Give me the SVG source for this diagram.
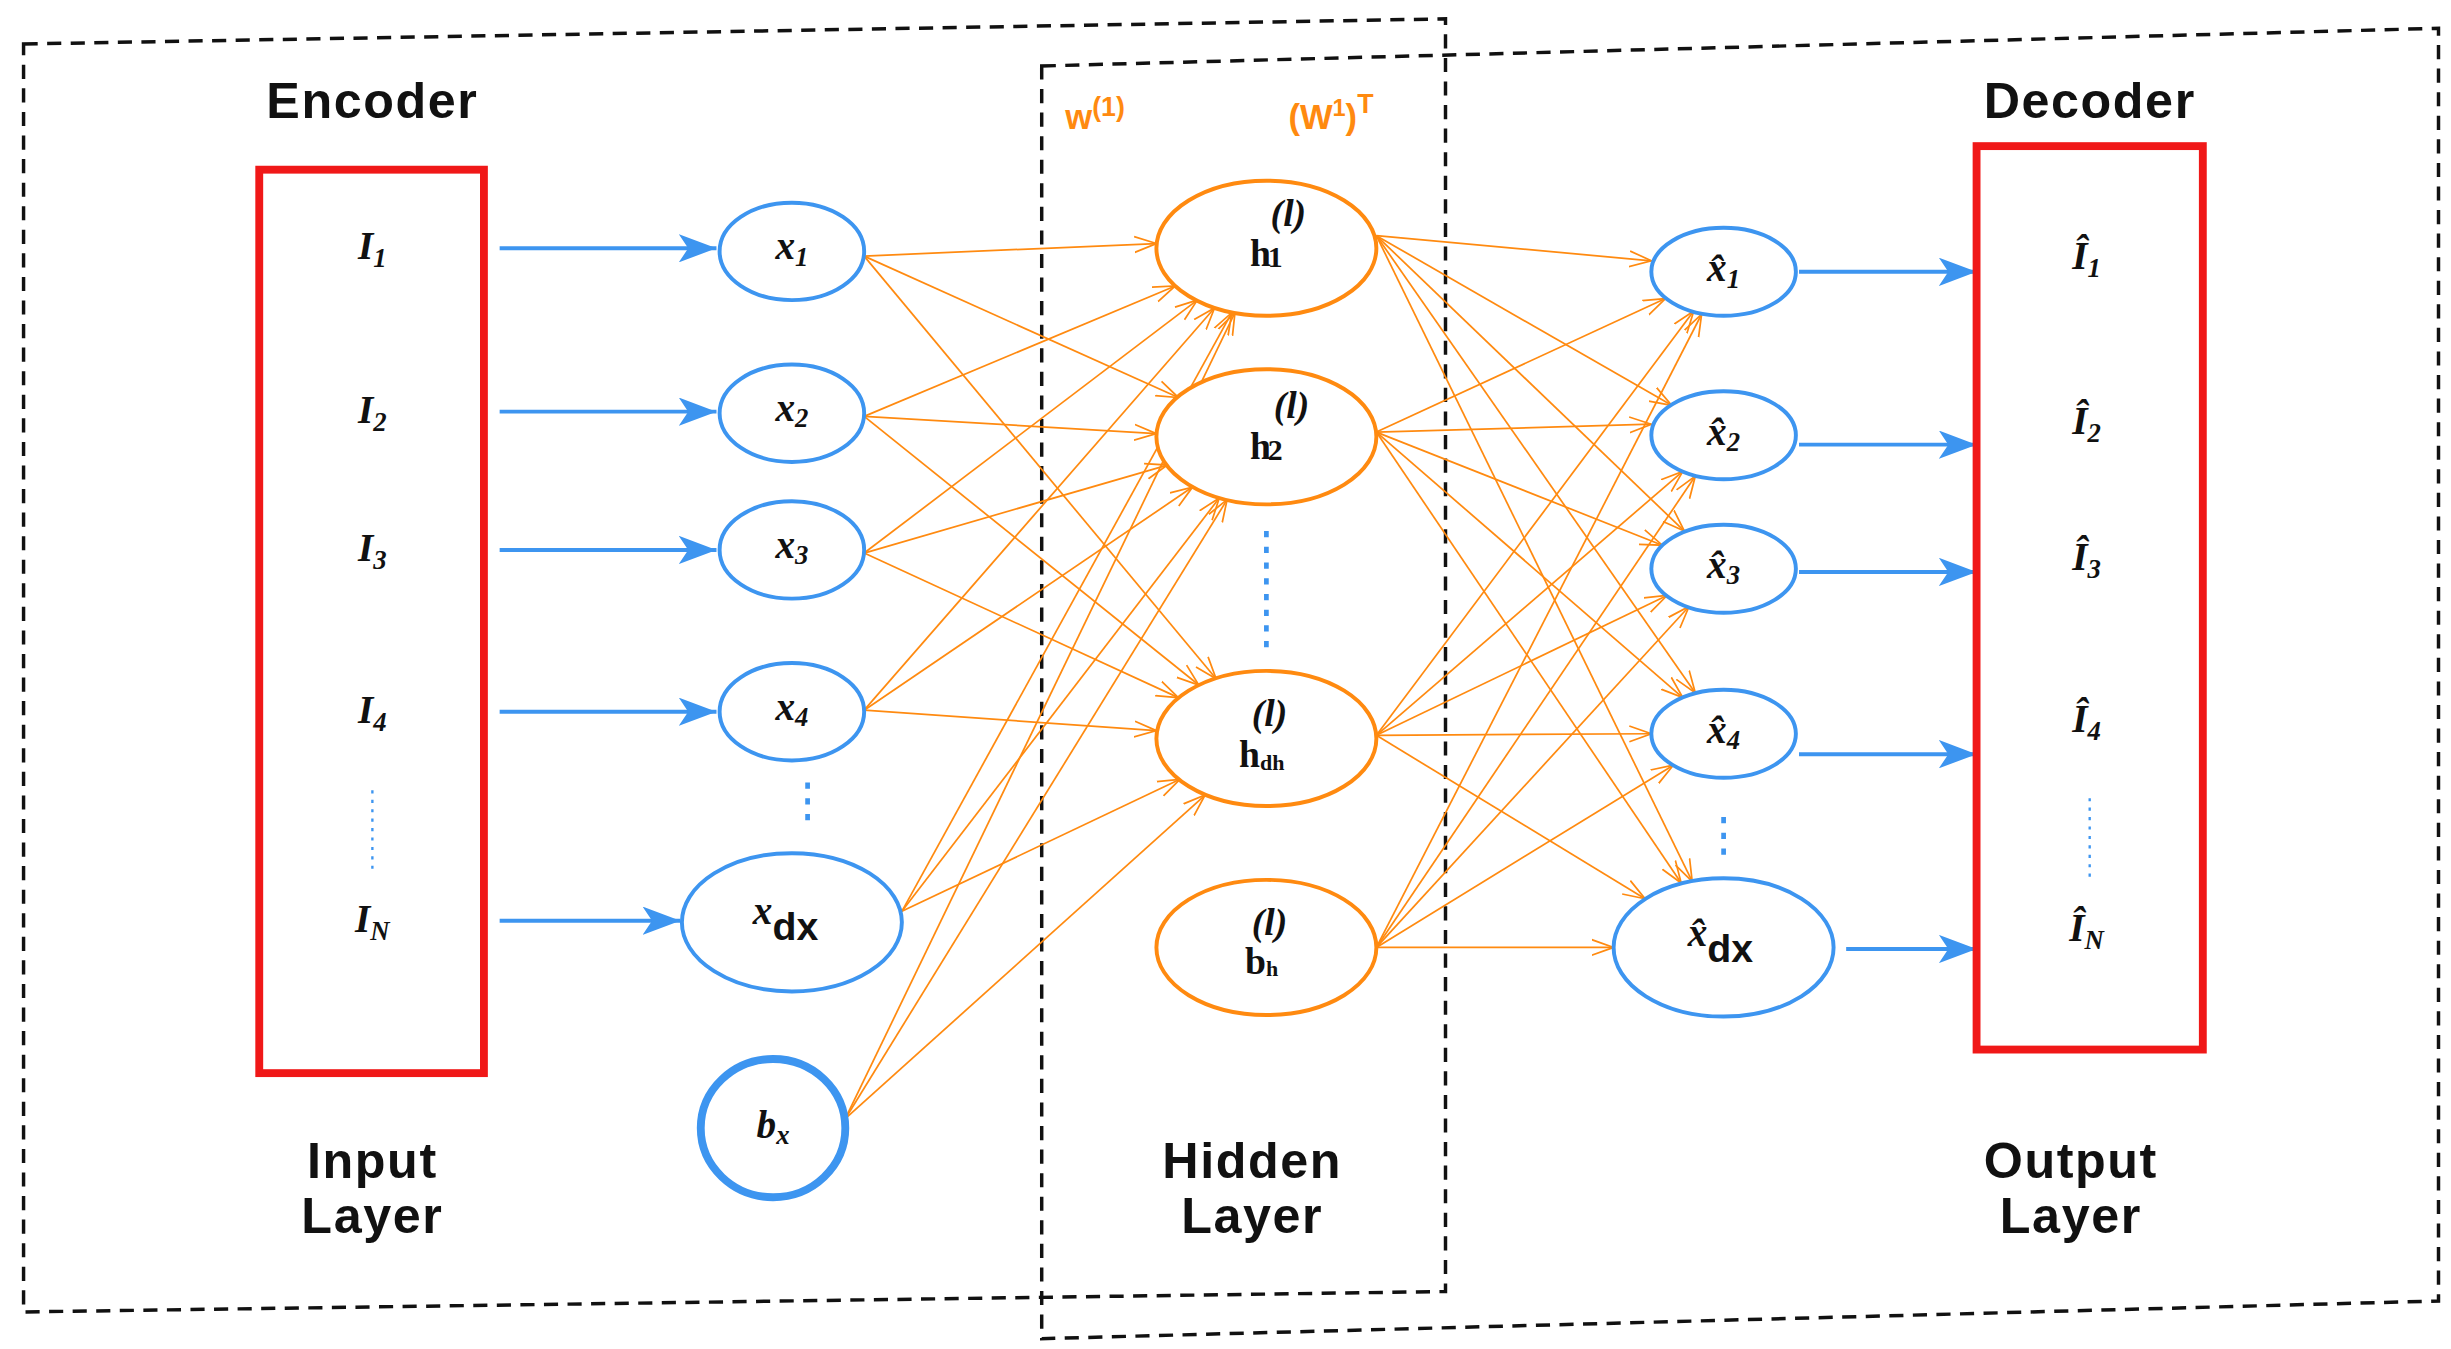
<svg xmlns="http://www.w3.org/2000/svg" width="2451" height="1349" viewBox="0 0 2451 1349">
<style>
.dash{fill:none;stroke:#111;stroke-width:2.2;stroke-dasharray:9 6}
.red{fill:none;stroke:#f01818;stroke-width:5}
.bn{fill:#fff;stroke:#3d95f0;stroke-width:2.5}
.bxn{fill:#fff;stroke:#3d95f0;stroke-width:5}
.on{fill:#fff;stroke:#ff8a10;stroke-width:2.5}
.ol{stroke:#ff8a10;stroke-width:1.1;fill:none;marker-end:url(#oa)}
.bl{stroke:#3d95f0;stroke-width:2.5;fill:none;marker-end:url(#ba)}
.hd{font-family:"Liberation Sans",Arial,sans-serif;font-weight:bold;font-size:32px;letter-spacing:1px;fill:#111;text-anchor:middle}
.mi{font-family:"Liberation Serif",serif;font-style:italic;font-weight:bold;font-size:25px;fill:#111;text-anchor:middle}
.sb{font-size:17px}
.hb{font-family:"Liberation Serif",serif;font-weight:bold;font-size:24px;fill:#111;text-anchor:middle}
.wl{font-family:"Liberation Sans",Arial,sans-serif;font-weight:bold;font-size:22px;fill:#ff8a10}
.dots{stroke:#3d95f0;stroke-width:3;stroke-dasharray:4 6}
.dotsm{stroke:#3d95f0;stroke-width:1.5;stroke-dasharray:2 4}
</style>
<defs>
<marker id="oa" markerUnits="userSpaceOnUse" markerWidth="16" markerHeight="12" refX="14" refY="6" orient="auto"><path d="M0,1 L14,6 L0,11" fill="none" stroke="#ff8a10" stroke-width="1.1"/></marker>
<marker id="ba" markerUnits="userSpaceOnUse" markerWidth="26" markerHeight="18" refX="24" refY="9" orient="auto"><path d="M0,0 L24,9 L0,18 L6,9 Z" fill="#3d95f0"/></marker>
</defs>
<rect width="2451" height="1349" fill="#fff"/>
<g transform="scale(1.5712)">
<g id="frames">
<path class="dash" d="M15,28 L920,12 L920,822 L15,835 Z"/>
<path class="dash" d="M663,42 L1552,18 L1552,828 L663,852 Z"/>
</g>
<g id="labels">
<text class="hd" x="237" y="75">Encoder</text>
<text class="hd" x="1330" y="75">Decoder</text>
<text class="hd" x="237" y="750">Input</text><text class="hd" x="237" y="785">Layer</text>
<text class="hd" x="797" y="750">Hidden</text><text class="hd" x="797" y="785">Layer</text>
<text class="hd" x="1318" y="750">Output</text><text class="hd" x="1318" y="785">Layer</text>
<text class="wl" x="678" y="82">w<tspan dy="-8" font-size="17">(1)</tspan></text>
<text class="wl" x="820" y="82">(W<tspan dy="-8" font-size="15">1</tspan><tspan dy="8">)</tspan><tspan dy="-10" font-size="17">T</tspan></text>
</g>
<g id="connectors">
<line class="bl" x1="318" y1="158" x2="456" y2="158"/>
<line class="bl" x1="318" y1="262" x2="456" y2="262"/>
<line class="bl" x1="318" y1="350" x2="456" y2="350"/>
<line class="bl" x1="318" y1="453" x2="456" y2="453"/>
<line class="bl" x1="318" y1="586" x2="433" y2="586"/>
<line class="bl" x1="1145" y1="173" x2="1258" y2="173"/>
<line class="bl" x1="1145" y1="283" x2="1258" y2="283"/>
<line class="bl" x1="1145" y1="364" x2="1258" y2="364"/>
<line class="bl" x1="1145" y1="480" x2="1258" y2="480"/>
<line class="bl" x1="1175" y1="604" x2="1258" y2="604"/>
<line class="ol" x1="550" y1="163" x2="736" y2="155"/>
<line class="ol" x1="550" y1="163" x2="750" y2="253"/>
<line class="ol" x1="550" y1="163" x2="774" y2="432"/>
<line class="ol" x1="550" y1="265" x2="748" y2="182"/>
<line class="ol" x1="550" y1="265" x2="736" y2="276"/>
<line class="ol" x1="550" y1="265" x2="763" y2="436"/>
<line class="ol" x1="550" y1="352" x2="762" y2="191"/>
<line class="ol" x1="550" y1="352" x2="743" y2="296"/>
<line class="ol" x1="550" y1="352" x2="750" y2="444"/>
<line class="ol" x1="550" y1="452" x2="773" y2="196"/>
<line class="ol" x1="550" y1="452" x2="759" y2="310"/>
<line class="ol" x1="550" y1="452" x2="736" y2="465"/>
<line class="ol" x1="574" y1="580" x2="784" y2="199"/>
<line class="ol" x1="574" y1="580" x2="776" y2="317"/>
<line class="ol" x1="574" y1="580" x2="751" y2="496"/>
<line class="ol" x1="538" y1="712" x2="786" y2="199"/>
<line class="ol" x1="538" y1="712" x2="781" y2="318"/>
<line class="ol" x1="538" y1="712" x2="767" y2="506"/>
<line class="ol" x1="876" y1="150" x2="1051" y2="166"/>
<line class="ol" x1="876" y1="150" x2="1064" y2="258"/>
<line class="ol" x1="876" y1="150" x2="1072" y2="338"/>
<line class="ol" x1="876" y1="150" x2="1079" y2="441"/>
<line class="ol" x1="876" y1="150" x2="1077" y2="561"/>
<line class="ol" x1="876" y1="275" x2="1060" y2="190"/>
<line class="ol" x1="876" y1="275" x2="1051" y2="270"/>
<line class="ol" x1="876" y1="275" x2="1058" y2="347"/>
<line class="ol" x1="876" y1="275" x2="1071" y2="444"/>
<line class="ol" x1="876" y1="275" x2="1070" y2="562"/>
<line class="ol" x1="876" y1="468" x2="1078" y2="198"/>
<line class="ol" x1="876" y1="468" x2="1071" y2="300"/>
<line class="ol" x1="876" y1="468" x2="1061" y2="379"/>
<line class="ol" x1="876" y1="468" x2="1051" y2="467"/>
<line class="ol" x1="876" y1="468" x2="1047" y2="572"/>
<line class="ol" x1="876" y1="603" x2="1083" y2="200"/>
<line class="ol" x1="876" y1="603" x2="1079" y2="303"/>
<line class="ol" x1="876" y1="603" x2="1075" y2="386"/>
<line class="ol" x1="876" y1="603" x2="1065" y2="487"/>
<line class="ol" x1="876" y1="603" x2="1027" y2="603"/>
</g>
<g id="input-layer">
<rect class="red" x="165" y="108" width="143" height="575"/>
<text class="mi" x="237" y="165">I<tspan class="sb" dy="5">1</tspan></text>
<text class="mi" x="237" y="269">I<tspan class="sb" dy="5">2</tspan></text>
<text class="mi" x="237" y="357">I<tspan class="sb" dy="5">3</tspan></text>
<text class="mi" x="237" y="460">I<tspan class="sb" dy="5">4</tspan></text>
<line class="dotsm" x1="237" y1="503" x2="237" y2="555"/>
<text class="mi" x="237" y="593">I<tspan class="sb" dy="5">N</tspan></text>
</g>
<g id="x1"><ellipse class="bn" cx="504" cy="160" rx="46" ry="31"/><text class="mi" x="504" y="165">x<tspan class="sb" dy="4">1</tspan></text></g>
<g id="x2"><ellipse class="bn" cx="504" cy="263" rx="46" ry="31"/><text class="mi" x="504" y="268">x<tspan class="sb" dy="4">2</tspan></text></g>
<g id="x3"><ellipse class="bn" cx="504" cy="350" rx="46" ry="31"/><text class="mi" x="504" y="355">x<tspan class="sb" dy="4">3</tspan></text></g>
<g id="x4"><ellipse class="bn" cx="504" cy="453" rx="46" ry="31"/><text class="mi" x="504" y="458">x<tspan class="sb" dy="4">4</tspan></text></g>
<line class="dots" x1="514" y1="498" x2="514" y2="522"/>
<g id="xdx"><ellipse class="bn" cx="504" cy="587" rx="70" ry="44"/><text class="mi" x="500" y="588">x<tspan dy="10" font-style="normal" font-family="Liberation Sans,sans-serif">dx</tspan></text></g>
<g id="bx"><ellipse class="bxn" cx="492" cy="718" rx="46" ry="44"/><text class="mi" x="492" y="724">b<tspan class="sb" dy="4">x</tspan></text></g>
<g id="h1"><ellipse class="on" cx="806" cy="158" rx="70" ry="43"/><text class="hb" x="806" y="169">h<tspan dx="-2" dy="1" font-size="19">1</tspan></text><text class="hb" x="820" y="144" font-size="18" font-style="italic">(l)</text></g>
<g id="h2"><ellipse class="on" cx="806" cy="278" rx="70" ry="43"/><text class="hb" x="806" y="292">h<tspan dx="-2" dy="1" font-size="19">2</tspan></text><text class="hb" x="822" y="266" font-size="18" font-style="italic">(l)</text></g>
<line class="dots" x1="806" y1="338" x2="806" y2="412"/>
<g id="hdh"><ellipse class="on" cx="806" cy="470" rx="70" ry="43"/><text class="hb" x="808" y="462" font-size="18" font-style="italic">(l)</text><text class="hb" x="803" y="488">h<tspan font-size="14" dy="2">dh</tspan></text></g>
<g id="bh"><ellipse class="on" cx="806" cy="603" rx="70" ry="43"/><text class="hb" x="808" y="595" font-size="18" font-style="italic">(l)</text><text class="hb" x="803" y="620">b<tspan font-size="14" dy="1">h</tspan></text></g>
<g id="xh1"><ellipse class="bn" cx="1097" cy="173" rx="46" ry="28"/><text class="mi" x="1097" y="179">x̂<tspan class="sb" dy="4">1</tspan></text></g>
<g id="xh2"><ellipse class="bn" cx="1097" cy="277" rx="46" ry="28"/><text class="mi" x="1097" y="283">x̂<tspan class="sb" dy="4">2</tspan></text></g>
<g id="xh3"><ellipse class="bn" cx="1097" cy="362" rx="46" ry="28"/><text class="mi" x="1097" y="368">x̂<tspan class="sb" dy="4">3</tspan></text></g>
<g id="xh4"><ellipse class="bn" cx="1097" cy="467" rx="46" ry="28"/><text class="mi" x="1097" y="473">x̂<tspan class="sb" dy="4">4</tspan></text></g>
<line class="dots" x1="1097" y1="520" x2="1097" y2="545"/>
<g id="xhdx"><ellipse class="bn" cx="1097" cy="603" rx="70" ry="44"/><text class="mi" x="1095" y="602">x̂<tspan dy="10" font-style="normal" font-family="Liberation Sans,sans-serif">dx</tspan></text></g>
<g id="output-layer">
<rect class="red" x="1258" y="93" width="144" height="575"/>
<text class="mi" x="1328" y="171">Î<tspan class="sb" dy="5">1</tspan></text>
<text class="mi" x="1328" y="276">Î<tspan class="sb" dy="5">2</tspan></text>
<text class="mi" x="1328" y="363">Î<tspan class="sb" dy="5">3</tspan></text>
<text class="mi" x="1328" y="466">Î<tspan class="sb" dy="5">4</tspan></text>
<line class="dotsm" x1="1330" y1="508" x2="1330" y2="562"/>
<text class="mi" x="1328" y="599">Î<tspan class="sb" dy="5">N</tspan></text>
</g>
</g>
</svg>
